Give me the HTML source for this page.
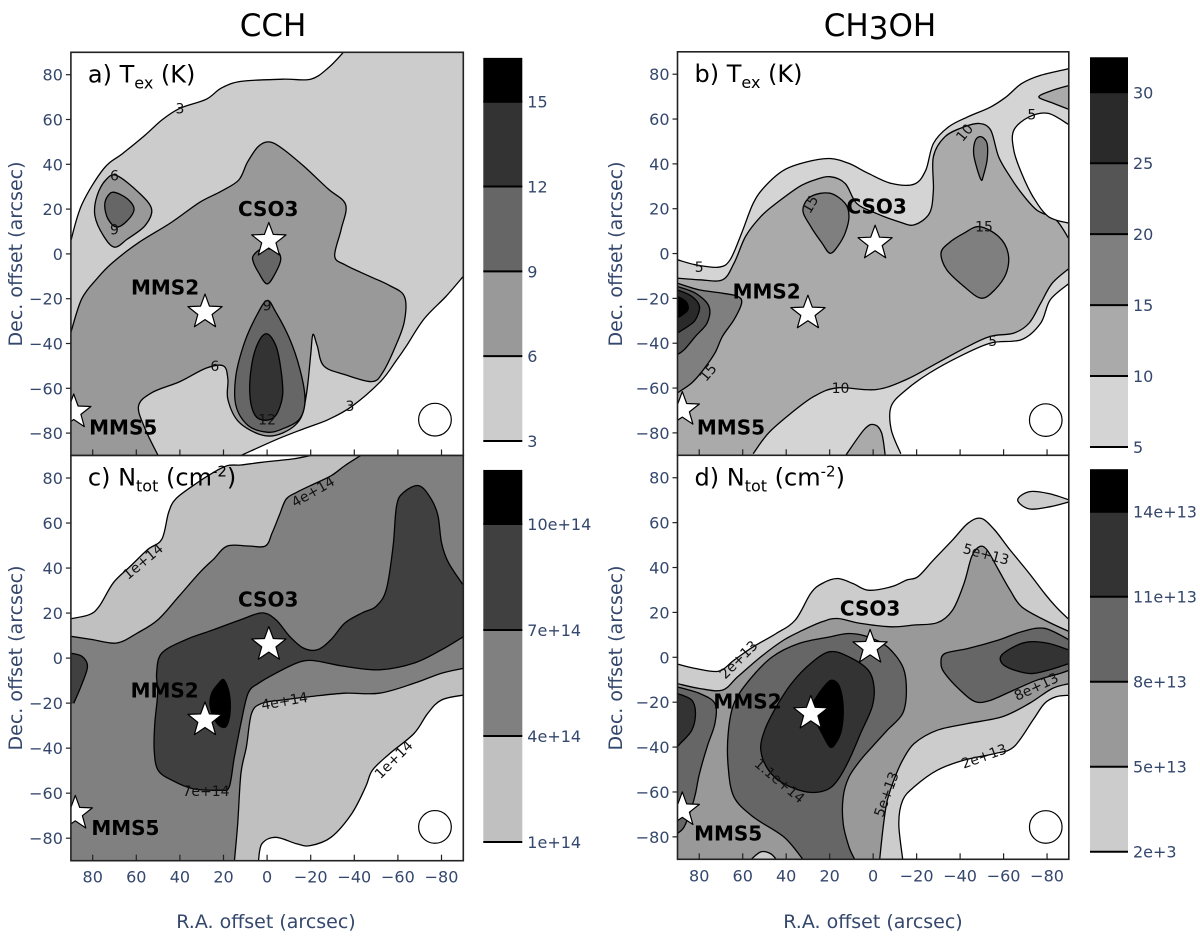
<!DOCTYPE html>
<html><head><meta charset="utf-8">
<style>
html,body{margin:0;padding:0;background:#fff;}
svg{display:block;font-family:"DejaVu Sans","Liberation Sans",sans-serif;}
.tick{fill:#34476c;font-size:16px;}
.axt{fill:#34476c;font-size:19px;}
</style></head>
<body>
<svg id="fig" xmlns="http://www.w3.org/2000/svg" width="1200" height="937" viewBox="0 0 1200 937">
<rect width="1200" height="937" fill="#fff"/>
<text x="273" y="36" font-size="31" text-anchor="middle" fill="#000">CCH</text>
<text x="880" y="36" font-size="31" text-anchor="middle" fill="#000">CH<tspan dy="3">3</tspan><tspan dy="-3">OH</tspan></text>
<text class="axt" transform="translate(22,254) rotate(-90)" text-anchor="middle">Dec. offset (arcsec)</text>
<text class="axt" transform="translate(22,658) rotate(-90)" text-anchor="middle">Dec. offset (arcsec)</text>
<text class="axt" transform="translate(622,254) rotate(-90)" text-anchor="middle">Dec. offset (arcsec)</text>
<text class="axt" transform="translate(622,658) rotate(-90)" text-anchor="middle">Dec. offset (arcsec)</text>
<text class="axt" x="266" y="928" text-anchor="middle">R.A. offset (arcsec)</text>
<text class="axt" x="873" y="928" text-anchor="middle">R.A. offset (arcsec)</text>
</svg>
<script>
// ---------- data: axis ticks ----------
const tickValues = [80, 60, 40, 20, 0, -20, -40, -60, -80];

// ---------- panel a (CCH Tex) contours, [RA, Dec] ----------
const aWhiteTop = [[90,6],[85,22],[75,38],[66,45],[56,53],[48,60],[40,65],[28,69],[21,74],[12,77],[-7,78],[-20,78],[-28,83],[-35,90]];
const aWhiteTopOut = [[-38,100],[100,100],[100,6]];
const aWhiteBot = [[-90,-10],[-82,-19],[-72,-29],[-64,-41],[-59,-48],[-52,-57],[-39,-68],[-28,-74],[-17,-78],[-4,-83],[12,-90]];
const aWhiteBotOut = [[14,-100],[-100,-100],[-100,-10]];
const a6Main = [[50,-90],[56,-78],[59,-68],[53,-62],[40,-57],[28,-51],[20,-50],[18,-56],[18,-65],[13,-75],[2,-81],[-7,-80],[-15,-74],[-18,-63],[-20,-45],[-21,-36],[-23,-41],[-26,-50],[-36,-54],[-48,-57],[-53,-53],[-59,-41],[-63,-30],[-63,-19],[-56,-14],[-47,-10],[-36,-5],[-31,-1],[-34,11],[-36,22],[-28,29],[-17,39],[-7,47],[-1,50],[4,48],[9,41],[13,33],[21,28],[31,23],[44,14],[59,5],[71,-4],[78,-11],[85,-20],[90,-35]];
const a6MainOut = [[100,-35],[100,-100],[50,-100]];
const a6Island = [[69,35],[59,27.5],[53,20],[56,12.6],[64,6.7],[70,3],[75,8],[79,17],[78,26],[74,33]];
const a9Island = [[70,27.5],[64,24.5],[61,20],[64,15],[69,12],[73,15.6],[74.5,21.6],[73,26]];
const a9Cso = [[6.3,-0.7],[2.4,2.2],[-4,1.5],[-6.3,-2.2],[-4,-8.2],[0,-13.4],[4,-8.2],[6.3,-3.7]];
const a9Drop = [[0,-20.8],[-4,-26],[-10.3,-37.9],[-15,-51.3],[-17.4,-64.7],[-15,-73.6],[-7.1,-78.1],[0,-79.6],[8.7,-76.6],[14.3,-67.7],[14.3,-54.3],[10.3,-39.4],[4.8,-27.5]];
const a12Drop = [[0,-35.7],[-4,-40.9],[-6.3,-51.3],[-7.1,-63.2],[-4,-72.1],[0.8,-74.3],[5.5,-72.1],[7.9,-63.2],[7.1,-49.8],[4,-39.4]];
const aLabelText = ["3","3","6","6","9","9","12"];
const aLabelPos = [[40,65],[-38,-68],[70,35],[24,-50],[70,11],[0,-23],[0,-74]];

// ---------- panel c (CCH Ntot) ----------
const cLightTop = [[90,9.7],[80,8.2],[69,6.7],[59.4,11.2],[50,17.1],[40.4,27.5],[31,37.9],[24.6,43.9],[18.2,49.8],[8.7,49.8],[0.8,49.8],[-2.4,55.8],[-5.5,63.2],[-8.7,70.6],[-13.5,73.6],[-19.8,76.6],[-29.3,81],[-35.7,85.5],[-43.6,90.4]];
const cLightTopOut = [[-45,100],[100,100],[100,10]];
const cWhiteTop = [[90,17.5],[81.6,19.3],[77,23],[70.5,33.5],[62.6,40.9],[54.7,48.3],[48.3,52.8],[45.2,64.7],[42,70.6],[34,76.6],[24.6,82.5],[18.2,85.5],[12,85.8],[2.4,87],[-12,88.5],[-21.4,90.3]];
const cWhiteTopOut = [[-22,100],[100,100],[100,17]];
const cLightBot = [[15,-90.3],[13.5,-73.6],[12,-51.3],[9.5,-39.4],[7.1,-24.5],[2.4,-20.1],[-7.1,-18.6],[-19.8,-17.1],[-35.7,-15.6],[-51.5,-15.6],[-67.4,-11.2],[-80,-6.7],[-90.3,-4.5]];
const cLightBotOut = [[-100,-4],[-100,-100],[15,-100]];
const cWhiteBot = [[4,-90.3],[2.4,-82.5],[-4,-79.6],[-13.5,-82.5],[-19.8,-83.3],[-29.3,-79.6],[-38.8,-69.1],[-45.2,-57.2],[-48.3,-49.8],[-56.3,-42.4],[-67.4,-33.5],[-73.7,-24.5],[-80,-18.6],[-90.3,-16.4]];
const cWhiteBotOut = [[-100,-16],[-100,-100],[4,-100]];
const cDark = [[-90.3,9.7],[-80,3.7],[-67.4,-2.2],[-51.5,-5.2],[-35.7,-3.7],[-27.7,-2.2],[-19.8,-1],[-13.5,-2.2],[-4,-6.7],[4,-11.2],[8.7,-15.6],[12,-29],[15,-43.9],[17.4,-57.2],[21.4,-58.7],[34,-58],[43.6,-54.3],[50,-49.8],[51.8,-40.9],[51.5,-29],[50.2,-15.6],[50.7,-6.7],[48.3,2.2],[37.2,8.2],[24.6,12.6],[12,17.1],[2.4,20.1],[-4,17.1],[-10.3,9.7],[-16.6,4.5],[-23,3.7],[-29.3,8.2],[-35.7,15.6],[-43.6,20.1],[-50,23],[-54.7,30.5],[-57.8,49.8],[-59.4,67.7],[-62.6,73.6],[-69.7,76.6],[-75.3,70.6],[-78.4,63.2],[-80,51.3],[-83.2,42.4],[-90.3,32]];
const cDarkOut = [[-100,32],[-100,10]];
const cDarkLeft = [[90.2,2.2],[84.8,0.7],[82.4,-3.7],[84.8,-11.2],[88.7,-20.1]];
const cDarkLeftOut = [[100,-22],[100,3]];
const cPeak = [[19.8,-9.7],[17.4,-15.6],[17,-24.5],[19,-30.5],[23,-29],[26.1,-21.6],[25.4,-15.6],[22.2,-11.2]];
const cLabelText = ["1e+14","4e+14","4e+14","1e+14","7e+14"];
const cLabelPos = [[57,43],[-21,74],[-8,-19],[-58,-45],[28,-59]];
const cLabelRot = [-40,-30,-10,-45,0];

// ---------- panel b (CH3OH Tex) ----------
const bLightTop = [[90,-11],[80,-11.7],[69.3,-11.7],[64,-4.3],[58.7,7.6],[51.7,16.5],[44.6,22.4],[34,29.8],[27,32.8],[19.9,34.3],[12.9,31.3],[7.6,22.4],[-1.2,18],[-11.8,14.2],[-18.9,12.8],[-25.9,18],[-27.7,28.3],[-27.7,43.2],[-33,52.1],[-41.8,56.5],[-48.9,58],[-54.1,55],[-57.7,43.2],[-63,34.3],[-68.3,26.9],[-75.3,19.4],[-84.1,15],[-90.3,6.1]];
const bLightTopOut = [[-100,6],[-100,100],[100,100],[100,-11]];
const bWhiteTop = [[90,-2.8],[81.7,-5],[71.1,-6.1],[65.8,-2.8],[60.5,9.1],[55.2,22.4],[49.9,29.8],[41.1,37.2],[30.5,40.9],[19.9,42.4],[11.1,40.2],[2.3,35.8],[-8.3,31.3],[-18.9,31],[-24.2,37.2],[-27.7,49.1],[-34.7,56.5],[-43.6,61],[-54.1,65.4],[-61.2,69.9],[-68.3,75.8],[-77.1,79.5],[-90.3,82.5]];
const bWhiteTopOut = [[-100,83],[-100,100],[100,100],[100,-3]];
const bWhiteLoop = [[-90.3,57.3],[-80.6,62.5],[-71.8,61],[-64.7,55],[-64.7,46.1],[-68.3,35.8],[-73.5,25.4],[-80.6,16.5],[-90.3,13.5]];
const bWhiteLoopOut = [[-100,13],[-100,57]];
const bMidCorner = [[-90.3,75],[-82.4,72.8],[-76.2,69.9],[-82.4,67.2],[-90.3,64.2]];
const bMidCornerOut = [[-100,64],[-100,75]];
const bLightBot = [[-90.3,-6.5],[-82.4,-13.2],[-77.1,-22.1],[-71.8,-31],[-64.7,-35.5],[-54.1,-36.9],[-43.6,-41.4],[-29.5,-48.8],[-15.3,-56.2],[-1.2,-60.7],[16.4,-59.9],[27,-63.6],[37.6,-71.1],[48.1,-80],[55.2,-89.3]];
const bLightBotOut = [[55,-100],[-100,-100],[-100,-6]];
const bMidBump = [[12.9,-90.4],[4.1,-78.5],[-0.4,-76.3],[-3.9,-80],[-5.6,-90.4]];
const bMidBumpOut = [[-6,-100],[13,-100]];
const bWhiteBot = [[-90.3,-13.2],[-81.5,-20.6],[-77.1,-31],[-68.3,-38.4],[-54.1,-39.9],[-40,-45.8],[-25.9,-53.3],[-15.3,-60.7],[-8.3,-68.1],[-8.3,-78.5],[-12.7,-89.3]];
const bWhiteBotOut = [[-13,-100],[-100,-100],[-100,-13]];
const b15Cso = [[28.7,25.4],[19.9,26.9],[12.9,22.4],[11.1,16.5],[12.9,9.1],[16.4,3.1],[19.9,0.1],[23.5,4.6],[28.7,12],[32.3,19.4]];
const b15Right = [[-48.9,12],[-57.7,7.6],[-62.1,0.1],[-61.2,-8.8],[-55.9,-16.2],[-49.7,-19.9],[-41.8,-14.7],[-33.9,-7.3],[-31.2,0.1],[-34.7,4.6],[-41.8,9.1]];
const b15Thin = [[-49.7,52.1],[-52.4,49.1],[-52.4,41.7],[-50.6,34.3],[-49.7,32.8],[-48,37.2],[-46.2,44.7],[-47.1,50.6]];
const b15Left = [[90.1,-13.2],[79.9,-16.2],[69.3,-17.7],[62.3,-19.1],[60.5,-22.1],[64,-29.5],[69.3,-36.9],[72.8,-44.4],[78.1,-51.8],[83.4,-57.7],[90.1,-62.2]];
const b15LeftOut = [[100,-62],[100,-13]];
const b20Left = [[90.1,-14.7],[81.7,-17.7],[75.5,-23.6],[76.4,-31],[81.7,-36.9],[86.9,-42.9],[90.1,-45.1]];
const b20LeftOut = [[100,-45],[100,-15]];
const b25Left = [[90.1,-16.2],[83.4,-19.1],[79.9,-23.6],[81.7,-29.5],[85.2,-32.5],[90.1,-35.5]];
const b25LeftOut = [[100,-35],[100,-16]];
const b30Left = [[90.1,-19.1],[86.1,-21.4],[85.2,-25.1],[88.7,-28],[90.1,-28.3]];
const b30LeftOut = [[100,-28],[100,-19]];
const bLabelText = ["5","10","5","15","15","5","15","10"];
const bLabelPos = [[80,-6],[-42,54],[-73,62],[29,22],[-51,12],[-55,-39],[76,-53],[15,-60]];
const bLabelRot = [0,-50,0,-60,0,0,-50,0];

// ---------- panel d (CH3OH Ntot) ----------
const dLightTop = [[90.1,-11.7],[79.9,-13.9],[69.3,-14.6],[62.3,-8.7],[51.7,0.2],[41.1,7.7],[32.3,12.1],[23.5,15.8],[16.4,17.3],[5.8,15.1],[-8.3,13.6],[-18.9,14.4],[-29.5,15.4],[-36.5,21],[-41.8,32.9],[-45.3,44.8],[-48.9,49.3],[-52.4,47.8],[-57.7,38.9],[-63,29.9],[-68.3,22.5],[-78.8,16.6],[-90.3,11.4]];
const dLightTopOut = [[-100,11],[-100,100],[100,100],[100,-12]];
const dWhiteTop = [[90.1,-3],[81.7,-5],[71.1,-6.2],[64,-1.3],[55.2,4.7],[44.6,10.6],[35.8,16.6],[28.7,28.5],[23.5,32.9],[16.4,35.1],[9.3,32.9],[2.3,29.9],[-8.3,31.4],[-15.3,34.4],[-20.6,35.9],[-27.7,43.3],[-36.5,52.2],[-43.6,59.7],[-49.7,61.9],[-55.9,56.7],[-63,47.8],[-71.8,37.4],[-78.8,28.5],[-84.1,22.5],[-90.3,16.6]];
const dWhiteTopOut = [[-100,16],[-100,100],[100,100],[100,-3]];
const dLightLoop = [[-90.3,70.1],[-80.6,73],[-71.8,73.8],[-66.5,70.1],[-71.8,66.1],[-81.5,67.1],[-90.3,69.3]];
const dLightLoopOut = [[-100,69],[-100,70]];
const dLightBot = [[-90.3,-11.7],[-82.4,-13.9],[-71.8,-20.6],[-59.4,-26.5],[-43.6,-29.5],[-29.5,-32.5],[-18.9,-38.4],[-13.6,-45.8],[-10.1,-53.3],[-6.5,-63.7],[-4.8,-74.1],[-3,-90]];
const dLightBotOut = [[-3,-100],[-100,-100],[-100,-12]];
const dWhiteBot = [[-13.6,-90],[-11.8,-74.1],[-13.6,-63.7],[-18.9,-57.7],[-29.5,-50.3],[-41.8,-45.8],[-55.9,-42.9],[-64.7,-39.9],[-73.5,-28],[-78.8,-20.6],[-84.1,-17.6],[-90.3,-16.9]];
const dWhiteBotOut = [[-100,-17],[-100,-100],[-14,-100]];
const dLightSmall = [[56.1,-90],[51.7,-86.7],[47.3,-87.4],[44.6,-90]];
const dLightSmallOut = [[44,-100],[57,-100]];
const d8Central = [[32.3,-90],[41.1,-80],[55.2,-71.1],[64,-62.2],[66.7,-48.8],[66.7,-33.9],[64,-20.6],[57,-10.2],[46.4,0.2],[34,6.2],[19.9,9.1],[11.1,10.6],[2.3,9.1],[-6.5,4.7],[-13.6,-4.2],[-15.3,-14.6],[-13.6,-25],[-6.5,-32.5],[0.5,-39.9],[5.8,-45.8],[11.1,-53.3],[13.8,-62.2],[13.8,-74.1],[11.1,-84.5],[8.5,-90]];
const d8CentralOut = [[8,-100],[32,-100]];
const d11Central = [[19.9,2.5],[11.1,0.2],[2.3,-5.7],[-0.4,-13.1],[0.5,-22.1],[5.8,-34],[11.1,-45.8],[16.4,-54.8],[21.7,-59.2],[30.5,-60],[41.1,-56.3],[48.1,-50.3],[51.7,-41.4],[49.9,-32.5],[44.6,-22.1],[37.6,-11.7],[28.7,-2.7]];
const d14Central = [[19,-10.2],[15.5,-13.1],[13.8,-22.1],[14.6,-32.5],[17.3,-38.4],[19.9,-39.9],[23.5,-34],[27,-28],[30.5,-25],[27,-19.1],[22.6,-13.1]];
const d8Right = [[-90.3,7.7],[-78.8,12.9],[-68.3,11.4],[-57.7,7.7],[-43.6,3.9],[-33,1.7],[-31.2,-2.7],[-33,-7.2],[-40,-14.6],[-47.1,-19.8],[-54.1,-19.1],[-64.7,-14.6],[-75.3,-10.2],[-85.9,-7.2],[-90.3,-5.7]];
const d8RightOut = [[-100,-6],[-100,8]];
const d11Right = [[-90.3,3.2],[-80.6,6.2],[-71.8,6.9],[-64.7,4.7],[-58.6,0.2],[-61.2,-4.2],[-71.8,-7.2],[-80.6,-5.7],[-90.3,-2.7]];
const d11RightOut = [[-100,-3],[-100,3]];
const d8Left = [[90.1,-13.2],[79.9,-16.1],[72.8,-20.6],[72.8,-29.5],[76.4,-39.9],[79.9,-51.8],[81.7,-60.7],[83.4,-66.6],[86.9,-75.5],[90.1,-78.5]];
const d8LeftOut = [[100,-79],[100,-13]];
const d11Left = [[90.1,-16.1],[83.4,-19.1],[81.7,-25],[83.4,-32.5],[88.7,-38.4],[90.1,-39.9]];
const d11LeftOut = [[100,-40],[100,-16]];
const dLabelText = ["2e+13","5e+13","8e+13","1.1e+14","2e+13","5e+13"];
const dLabelPos = [[62,-1],[-52,46],[-75,-13],[43,-55],[-51,-44],[-6,-61]];
const dLabelRot = [-45,15,-25,40,-20,-70];

// ---------- sources & beams ----------
const starNames = ["CSO3","MMS2","MMS5"];
const aStars = [[-0.8,6],[28.5,-26],[88.7,-70.6]];
const aStarLabels = [[-0.5,20],[46.8,-15],[66,-77.6]];
const cStars = [[-0.8,6],[28.5,-27.5],[88,-69]];
const cStarLabels = [[-0.5,26],[47,-14.4],[65,-75.4]];
const bStars = [[-0.9,4.6],[30,-26.6],[87.8,-69.6]];
const bStarLabels = [[-1.6,21],[49,-17],[65.4,-77.7]];
const dStars = [[1.4,4.4],[28.7,-25],[87.8,-68]];
const dStarLabels = [[1.4,21.8],[57.8,-19.8],[66.7,-78.5]];
const aBeam = [-77,-74]; const cBeam = [-77,-75]; const bBeam = [-79.4,-74.3]; const dBeam = [-79.4,-75.6];
const beamRadius = 7.5;

// ---------- colorbars ----------
const cbALevels = [3,6,9,12,15]; const cbATop = 16.55;
const cbAColors = ["#cccccc","#999999","#666666","#333333","#000000"];
const cbALabels = ["3","6","9","12","15"];
const cbCLevels = [1,4,7,10]; const cbCTop = 11.53;
const cbCColors = ["#c0c0c0","#808080","#404040","#000000"];
const cbCLabels = ["1e+14","4e+14","7e+14","10e+14"];
const cbBLevels = [5,10,15,20,25,30]; const cbBTop = 32.47;
const cbBColors = ["#d4d4d4","#aaaaaa","#7f7f7f","#555555","#2a2a2a","#000000"];
const cbBLabels = ["5","10","15","20","25","30"];
const cbDLevels = [2,5,8,11,14]; const cbDTop = 15.5;
const cbDColors = ["#cccccc","#999999","#666666","#333333","#000000"];
const cbDLabels = ["2e+3","5e+13","8e+13","11e+13","14e+13"];

// ---------- rendering ----------
const NS = 'http://www.w3.org/2000/svg';
const svg = document.getElementById('fig');
function el(tag, attrs, parent) {
  const e = document.createElementNS(NS, tag);
  for (const k in attrs) e.setAttribute(k, attrs[k]);
  (parent || svg).appendChild(e);
  return e;
}
function axes(x0, x1, y0, y1) {
  return {
    sx: ra => x0 + (90 - ra) / 180 * (x1 - x0),
    sy: dec => y0 + (90 - dec) / 180 * (y1 - y0),
    x0, x1, y0, y1
  };
}
function crPath(P, closed) {
  const n = P.length;
  let d = 'M' + P[0][0].toFixed(1) + ',' + P[0][1].toFixed(1);
  const segs = closed ? n : n - 1;
  for (let i = 0; i < segs; i++) {
    const p0 = closed ? P[(i - 1 + n) % n] : P[Math.max(i - 1, 0)];
    const p1 = P[i % n];
    const p2 = P[(i + 1) % n];
    const p3 = closed ? P[(i + 2) % n] : P[Math.min(i + 2, n - 1)];
    const c1 = [p1[0] + (p2[0] - p0[0]) / 6, p1[1] + (p2[1] - p0[1]) / 6];
    const c2 = [p2[0] - (p3[0] - p1[0]) / 6, p2[1] - (p3[1] - p1[1]) / 6];
    d += 'C' + c1[0].toFixed(1) + ',' + c1[1].toFixed(1) + ' ' + c2[0].toFixed(1) + ',' + c2[1].toFixed(1) + ' ' + p2[0].toFixed(1) + ',' + p2[1].toFixed(1);
  }
  return closed ? d + 'Z' : d;
}
function region(ax, g, pts, out, fill) {
  const P = pts.map(p => [ax.sx(p[0]), ax.sy(p[1])]);
  let d;
  if (out) {
    d = crPath(P, false);
    out.forEach(o => { d += 'L' + ax.sx(o[0]).toFixed(1) + ',' + ax.sy(o[1]).toFixed(1); });
    d += 'Z';
  } else d = crPath(P, true);
  const f = el('path', { d: d, fill: fill, stroke: 'none' }, g);
  
  
  const s = el('path', { d: crPath(P, !out), fill: 'none', stroke: '#000', 'stroke-width': 1.3 }, g);
  
  
}
function starPts(cx, cy) {
  const pts = [];
  for (let k = 0; k < 10; k++) {
    const r = k % 2 ? 7.5 : 18;
    const a = -Math.PI / 2 + k * Math.PI / 5;
    pts.push((cx + r * Math.cos(a)).toFixed(1) + ',' + (cy + r * Math.sin(a)).toFixed(1));
  }
  return pts.join(' ');
}
function panel(id, ax, bg, layers, labelText, labelPos, labelRot, stars, starLabels, beam, title, showX) {
  const g = el('g', {});
  
  
  const clip = el('clipPath', { id: 'clip-' + id }, g);
  el('rect', { x: ax.x0, y: ax.y0, width: ax.x1 - ax.x0, height: ax.y1 - ax.y0 }, clip);
  const cg = el('g', { 'clip-path': 'url(#clip-' + id + ')' }, g);
  
  
  const bgr = el('rect', { x: ax.x0, y: ax.y0, width: ax.x1 - ax.x0, height: ax.y1 - ax.y0, fill: bg }, cg);
  
  
  layers.forEach(L => region(ax, cg, L[0], L[1], L[2]));
  labelText.forEach((t, i) => {
    const x = ax.sx(labelPos[i][0]), y = ax.sy(labelPos[i][1]);
    const tx = el('text', { x: x, y: y + 5, 'font-size': 14, 'text-anchor': 'middle', fill: '#111', transform: 'rotate(' + (labelRot ? labelRot[i] : 0) + ' ' + x + ' ' + y + ')' }, cg);
    
    
    tx.textContent = t;
  });
  const bm = el('circle', { cx: ax.sx(beam[0]), cy: ax.sy(beam[1]), r: beamRadius * (ax.x1 - ax.x0) / 180, fill: '#fff', stroke: '#000', 'stroke-width': 1.2 }, cg);
  
  
  stars.forEach((s, i) => {
    const st = el('polygon', { points: starPts(ax.sx(s[0]), ax.sy(s[1])), fill: '#fff', stroke: '#000', 'stroke-width': 1.2, 'stroke-linejoin': 'round' }, cg);
    
    
    const lb = el('text', { x: ax.sx(starLabels[i][0]), y: ax.sy(starLabels[i][1]) + 7, 'font-size': 20, 'font-weight': 'bold', 'text-anchor': 'middle', fill: '#000' }, cg);
    
    
    lb.textContent = starNames[i];
  });
  const fr = el('rect', { x: ax.x0, y: ax.y0, width: ax.x1 - ax.x0, height: ax.y1 - ax.y0, fill: 'none', stroke: '#222', 'stroke-width': 1.6 }, g);
  
  
  tickValues.forEach(v => {
    const y = ax.sy(v);
    const tl = el('line', { x1: ax.x0 - 5, x2: ax.x0, y1: y, y2: y, stroke: '#222', 'stroke-width': 1.2 }, g);
    
    
    const tt = el('text', { x: ax.x0 - 8, y: y + 6, class: 'tick', 'text-anchor': 'end' }, g);
    
    
    tt.textContent = String(v).replace('-', '\u2212');
    const x = ax.sx(v);
    const xl = el('line', { x1: x, x2: x, y1: ax.y1, y2: ax.y1 - 6, stroke: '#222', 'stroke-width': 1.2 }, g);
    
    
    if (showX) {
      const xt = el('text', { x: x, y: ax.y1 + 22, class: 'tick', 'text-anchor': 'middle' }, g);
      
      
      xt.textContent = String(v).replace('-', '\u2212');
    }
  });
  const pt = el('text', { x: ax.x0 + 17, y: ax.y0 + 30, 'font-size': 24, fill: '#000' }, g);
  
  
  pt.innerHTML = title;
}
function colorbar(id, x0, x1, yBottom, yTopFirst, levels, top, colors, labels) {
  const g = el('g', {});
  
  
  const vmin = levels[0], vmax = levels[levels.length - 1];
  const sy = v => yBottom - (v - vmin) / (vmax - vmin) * (yBottom - yTopFirst);
  const bounds = levels.concat([top]);
  for (let i = 0; i < levels.length; i++) {
    const ya = sy(bounds[i + 1]), yb = sy(bounds[i]);
    const r = el('rect', { x: x0, y: ya, width: x1 - x0, height: yb - ya, fill: colors[i] }, g);
    
    
  }
  levels.forEach((v, i) => {
    const y = sy(v);
    const ln = el('line', { x1: x0, x2: x1, y1: y, y2: y, stroke: '#000', 'stroke-width': 2 }, g);
    
    
    const t = el('text', { x: x1 + 5, y: y + 6, class: 'tick' }, g);
    
    
    t.textContent = labels[i];
  });
}

const axA = axes(70.9, 463.3, 52.3, 455.5);
const axC = axes(70.9, 463.3, 455.5, 860.7);
const axB = axes(677.5, 1068.8, 51.8, 455.3);
const axD = axes(677.5, 1068.8, 455.3, 859.3);

panel('a', axA, '#cccccc', [
  [aWhiteTop, aWhiteTopOut, '#ffffff'],
  [aWhiteBot, aWhiteBotOut, '#ffffff'],
  [a6Main, a6MainOut, '#999999'],
  [a6Island, null, '#999999'],
  [a9Island, null, '#666666'],
  [a9Cso, null, '#666666'],
  [a9Drop, null, '#666666'],
  [a12Drop, null, '#333333']
], aLabelText, aLabelPos, null, aStars, aStarLabels, aBeam, 'a) T<tspan font-size="16" dy="6">ex</tspan><tspan dy="-6"> (K)</tspan>', false);

panel('c', axC, '#808080', [
  [cLightTop, cLightTopOut, '#c0c0c0'],
  [cWhiteTop, cWhiteTopOut, '#ffffff'],
  [cLightBot, cLightBotOut, '#c0c0c0'],
  [cWhiteBot, cWhiteBotOut, '#ffffff'],
  [cDark, cDarkOut, '#404040'],
  [cDarkLeft, cDarkLeftOut, '#404040'],
  [cPeak, null, '#000000']
], cLabelText, cLabelPos, cLabelRot, cStars, cStarLabels, cBeam, 'c) N<tspan font-size="16" dy="6">tot</tspan><tspan dy="-6"> (cm</tspan><tspan font-size="15" dy="-9">-2</tspan><tspan dy="9">)</tspan>', true);

panel('b', axB, '#aaaaaa', [
  [bLightTop, bLightTopOut, '#d4d4d4'],
  [bWhiteTop, bWhiteTopOut, '#ffffff'],
  [bWhiteLoop, bWhiteLoopOut, '#ffffff'],
  [bMidCorner, bMidCornerOut, '#aaaaaa'],
  [bLightBot, bLightBotOut, '#d4d4d4'],
  [bMidBump, bMidBumpOut, '#aaaaaa'],
  [bWhiteBot, bWhiteBotOut, '#ffffff'],
  [b15Cso, null, '#7f7f7f'],
  [b15Right, null, '#7f7f7f'],
  [b15Thin, null, '#7f7f7f'],
  [b15Left, b15LeftOut, '#7f7f7f'],
  [b20Left, b20LeftOut, '#555555'],
  [b25Left, b25LeftOut, '#2a2a2a'],
  [b30Left, b30LeftOut, '#000000']
], bLabelText, bLabelPos, bLabelRot, bStars, bStarLabels, bBeam, 'b) T<tspan font-size="16" dy="6">ex</tspan><tspan dy="-6"> (K)</tspan>', false);

panel('d', axD, '#999999', [
  [dLightTop, dLightTopOut, '#cccccc'],
  [dWhiteTop, dWhiteTopOut, '#ffffff'],
  [dLightLoop, dLightLoopOut, '#cccccc'],
  [dLightBot, dLightBotOut, '#cccccc'],
  [dWhiteBot, dWhiteBotOut, '#ffffff'],
  [dLightSmall, dLightSmallOut, '#cccccc'],
  [d8Central, d8CentralOut, '#666666'],
  [d11Central, null, '#333333'],
  [d14Central, null, '#000000'],
  [d8Right, d8RightOut, '#666666'],
  [d11Right, d11RightOut, '#333333'],
  [d8Left, d8LeftOut, '#666666'],
  [d11Left, d11LeftOut, '#333333']
], dLabelText, dLabelPos, dLabelRot, dStars, dStarLabels, dBeam, 'd) N<tspan font-size="16" dy="6">tot</tspan><tspan dy="-6"> (cm</tspan><tspan font-size="15" dy="-9">-2</tspan><tspan dy="9">)</tspan>', true);

colorbar('a', 483.3, 522.3, 441, 101.7, cbALevels, cbATop, cbAColors, cbALabels);
colorbar('c', 483.3, 522.3, 842, 524, cbCLevels, cbCTop, cbCColors, cbCLabels);
colorbar('b', 1090, 1128, 447, 92.3, cbBLevels, cbBTop, cbBColors, cbBLabels);
colorbar('d', 1090, 1128, 851.7, 511.7, cbDLevels, cbDTop, cbDColors, cbDLabels);
</script>
</body></html>
